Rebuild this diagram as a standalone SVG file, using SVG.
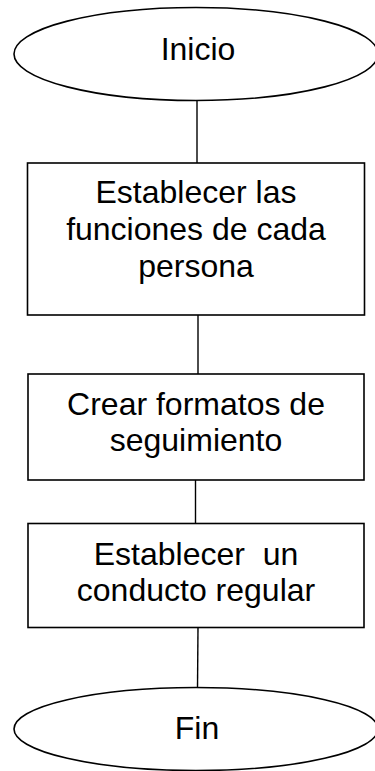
<svg xmlns="http://www.w3.org/2000/svg" width="375" height="771" viewBox="0 0 375 771">
<style>
.shape{fill:#fff;stroke:#000;stroke-width:1.6}
.conn{stroke:#000;stroke-width:1.4;fill:none}
.lbl{font-family:"Liberation Sans",Arial,sans-serif;font-size:32px;fill:#000;text-anchor:middle}
</style>
<rect width="375" height="771" fill="#fff"/>
<g id="connectors">
<line class="conn" x1="197" y1="100" x2="197" y2="163"/>
<line class="conn" x1="198" y1="315" x2="198" y2="374"/>
<line class="conn" x1="195.5" y1="480" x2="195.5" y2="523"/>
<line class="conn" x1="198" y1="627" x2="197.5" y2="688"/>
</g>
<g id="inicio">
<ellipse class="shape" cx="196" cy="54" rx="182" ry="46.5"/>
<text class="lbl" x="198" y="60">Inicio</text>
</g>
<g id="funciones">
<rect class="shape" x="27.5" y="163" width="337" height="152"/>
<text class="lbl" x="196" y="202.5">Establecer las</text>
<text class="lbl" x="196" y="239.5">funciones de cada</text>
<text class="lbl" x="196" y="276.5">persona</text>
</g>
<g id="formatos">
<rect class="shape" x="28" y="374" width="336" height="106"/>
<text class="lbl" x="196" y="415">Crear formatos de</text>
<text class="lbl" x="196" y="450.5">seguimiento</text>
</g>
<g id="conducto">
<rect class="shape" x="28" y="523.5" width="336" height="104"/>
<text class="lbl" x="196" y="565" xml:space="preserve">Establecer  un</text>
<text class="lbl" x="196" y="600.5">conducto regular</text>
</g>
<g id="fin">
<ellipse class="shape" cx="196" cy="729" rx="182" ry="41.5"/>
<text class="lbl" x="197" y="739">Fin</text>
</g>
</svg>
